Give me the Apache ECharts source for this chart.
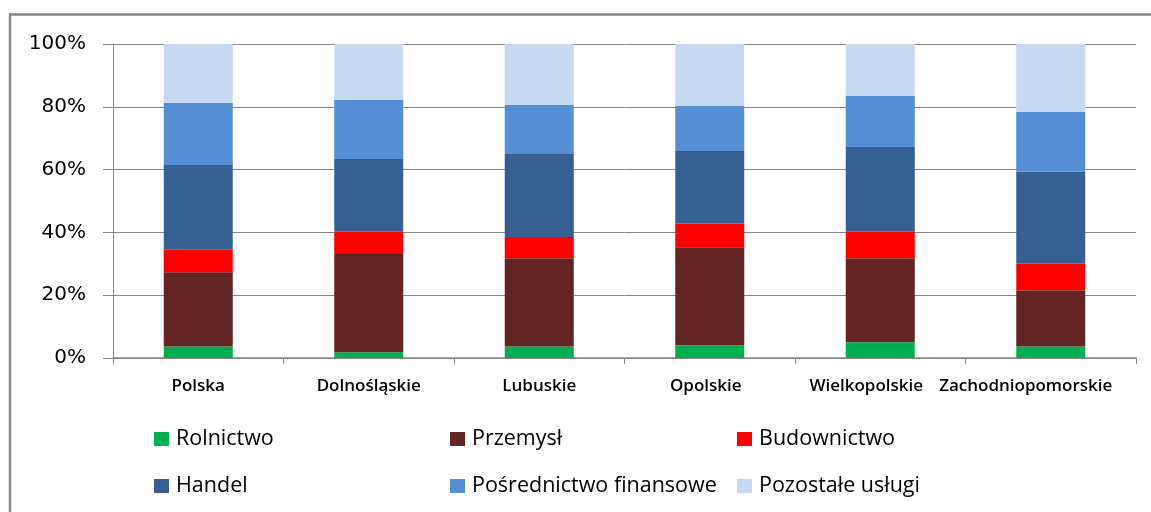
<!DOCTYPE html>
<html lang="pl">
  <head>
    <meta charset="UTF-8" />
    <title>Struktura pracujących według sektorów</title>
    <script src="https://cdn.jsdelivr.net/npm/echarts@6/dist/echarts.min.js"></script>
    <style>
      * { margin: 0; padding: 0; box-sizing: border-box; }
      body { background: #fff; overflow: hidden; }
      #chart { width: 1151px; height: 512px; }
    </style>
  </head>
  <body>
    <div id="chart"></div>
    <script>
      // regiony
      const regions = ["Polska", "Dolnośląskie", "Lubuskie", "Opolskie", "Wielkopolskie", "Zachodniopomorskie"];

      // udziały w %
      const rolnictwo  = [3.7, 1.8, 3.7, 4.1, 5.0, 3.7];
      const przemysl   = [23.6, 31.3, 28.1, 31.2, 26.8, 17.9];
      const budownictwo = [7.3, 7.1, 6.7, 7.5, 8.4, 8.4];
      const handel     = [26.9, 23.2, 26.5, 23.1, 27.0, 29.3];
      const finanse    = [19.8, 18.8, 15.6, 14.4, 16.3, 19.1];
      const pozostale  = [18.7, 17.8, 19.4, 19.7, 16.5, 21.6];

      const yTicks = [0, 20, 40, 60, 80, 100];

      const seriesDefs = [
        { name: "Rolnictwo", data: rolnictwo, color: "#00B050" },
        { name: "Przemysł", data: przemysl, color: "#632523" },
        { name: "Budownictwo", data: budownictwo, color: "#FF0000" },
        { name: "Handel", data: handel, color: "#366092" },
        { name: "Pośrednictwo finansowe", data: finanse, color: "#558ED5" },
        { name: "Pozostałe usługi", data: pozostale, color: "#C6D9F1" },
      ];

      // Excel przesuwa ostatnie etykiety w lewo, żeby zmieściły się w obszarze
      const labelShift = [0, 0, 0, 4, 14, 25];

      // pozycje legendy (3 kolumny x 2 wiersze), z odjętym paddingiem 5px
      const legendCols = [149, 445, 732];
      const legendRows = [423, 470];

      const legends = seriesDefs.map((s, i) => ({
        data: [s.name],
        left: legendCols[i % 3],
        top: legendRows[Math.floor(i / 3)],
        icon: "rect",
        itemWidth: 15,
        itemHeight: 14,
        selectedMode: false,
        textStyle: {
          fontFamily: "Open Sans",
          fontSize: 21.5,
          color: "#000",
          lineHeight: 22,
          padding: [0, 0, 0, 2],
        },
      }));

      const labelFont = {
        color: "#000",
        fontFamily: "Open Sans",
        fontWeight: 600,
        fontSize: 17,
      };
      const rich = {};
      labelShift.forEach((d, i) => {
        rich["c" + i] = Object.assign({ padding: [0, d * 2, 0, 0] }, labelFont);
      });

      const chart = echarts.init(document.getElementById("chart"));

      const option = {
        animation: false,
        backgroundColor: "#fff",
        graphic: [
          {
            type: "rect",
            shape: { x: 10, y: 14.5, width: 1300, height: 700 },
            style: { fill: "none", stroke: "#868686", lineWidth: 2.5 },
            silent: true,
          },
        ],
        legend: legends,
        grid: { left: 113, right: 15, top: 44, bottom: 154 },
        xAxis: {
          type: "category",
          data: regions,
          axisLine: { lineStyle: { color: "#868686", width: 1.5 } },
          axisTick: { show: true, length: 6, lineStyle: { color: "#868686" } },
          axisLabel: Object.assign({
            margin: 20,
            interval: 0,
            formatter: (v, i) => "{c" + i + "|" + v + "}",
            rich: rich,
          }, labelFont),
        },
        yAxis: {
          type: "value",
          min: yTicks[0],
          max: yTicks[yTicks.length - 1],
          interval: 20,
          axisLine: { show: true, lineStyle: { color: "#868686" } },
          axisTick: { show: true, inside: false, length: 10, lineStyle: { color: "#868686" } },
          splitLine: { lineStyle: { color: "#868686", width: 1 } },
          axisLabel: {
            formatter: "{value}%",
            margin: 27,
            color: "#000",
            fontFamily: "DejaVu Sans",
            fontSize: 20,
          },
        },
        series: seriesDefs.map((s) => ({
          name: s.name,
          type: "bar",
          stack: "total",
          barWidth: 69,
          data: s.data,
          itemStyle: { color: s.color },
        })),
      };

      chart.setOption(option);
    </script>
  </body>
</html>
